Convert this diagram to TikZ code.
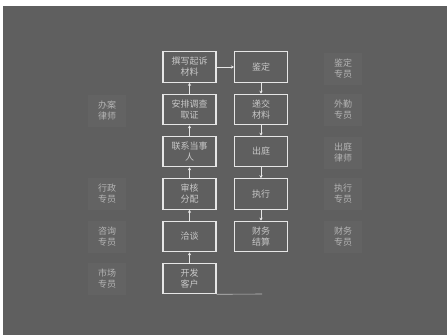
\documentclass[tikz,border=0pt]{standalone}
\usepackage{fontspec}
\setmainfont{Noto Sans CJK SC}
\usetikzlibrary{arrows.meta,positioning}
\definecolor{bg}{HTML}{5F5F5F}
\definecolor{patch}{HTML}{636363}
\definecolor{boxline}{HTML}{E6E6E6}
\definecolor{boxtext}{HTML}{C8C8C8}
\definecolor{labtext}{HTML}{B4B4B4}
\tikzset{
  stepbox/.style={draw=boxline, line width=1.1pt, minimum width=53pt, minimum height=30.5pt,
    inner sep=0pt, align=center, text=boxtext, font=\fontsize{9}{11}\selectfont},
  rolelab/.style={fill=patch, minimum width=38pt, minimum height=32pt, inner sep=0pt,
    align=center, text=labtext, font=\fontsize{9}{11}\selectfont},
  flow/.style={draw=boxline, line width=0.9pt, -{Stealth[length=3pt,width=3.2pt]}}
}
\begin{document}
\begin{tikzpicture}[x=1pt,y=-1pt]
\useasboundingbox (0,0) rectangle (447,335);
\fill[white] (0,0) rectangle (447,335);
\fill[bg] (3,6) rectangle (447,335);
% left column
\node[stepbox] (l1) at (189.5,67) {撰写起诉\\材料};
\node[stepbox] (l2) at (189.5,109.5) {安排调查\\取证};
\node[stepbox] (l3) at (189.5,151.5) {联系当事\\人};
\node[stepbox] (l4) at (189.5,194) {审核\\分配};
\node[stepbox] (l5) at (189.5,236.5) {洽谈};
\node[stepbox] (l6) at (189.5,278.5) {开发\\客户};
% right column
\node[stepbox] (r1) at (261,67) {鉴定};
\node[stepbox] (r2) at (261,109.5) {递交\\材料};
\node[stepbox] (r3) at (261,151.5) {出庭};
\node[stepbox] (r4) at (261,194) {执行};
\node[stepbox] (r5) at (261,236.5) {财务\\结算};
% connectors
\draw[flow] (l6) -- (l5);
\draw[flow] (l5) -- (l4);
\draw[flow] (l4) -- (l3);
\draw[flow] (l3) -- (l2);
\draw[flow] (l2) -- (l1);
\draw[flow] (l1) -- (r1);
\draw[flow] (r1) -- (r2);
\draw[flow] (r2) -- (r3);
\draw[flow] (r3) -- (r4);
\draw[flow] (r4) -- (r5);
\coordinate (tail) at (262,294);
\draw[boxline!70!bg, line width=0.6pt] (l6.south east) -- (tail);
% role labels
\node[rolelab] (a1) at (107,111) {办案\\律师};
\node[rolelab] (a2) at (107,194) {行政\\专员};
\node[rolelab] (a3) at (107,237) {咨询\\专员};
\node[rolelab] (a4) at (107,279) {市场\\专员};
\node[rolelab] (b1) at (343,69) {鉴定\\专员};
\node[rolelab] (b2) at (343,110) {外勤\\专员};
\node[rolelab] (b3) at (343,153) {出庭\\律师};
\node[rolelab] (b4) at (343,194) {执行\\专员};
\node[rolelab] (b5) at (343,237) {财务\\专员};
\end{tikzpicture}
\end{document}
